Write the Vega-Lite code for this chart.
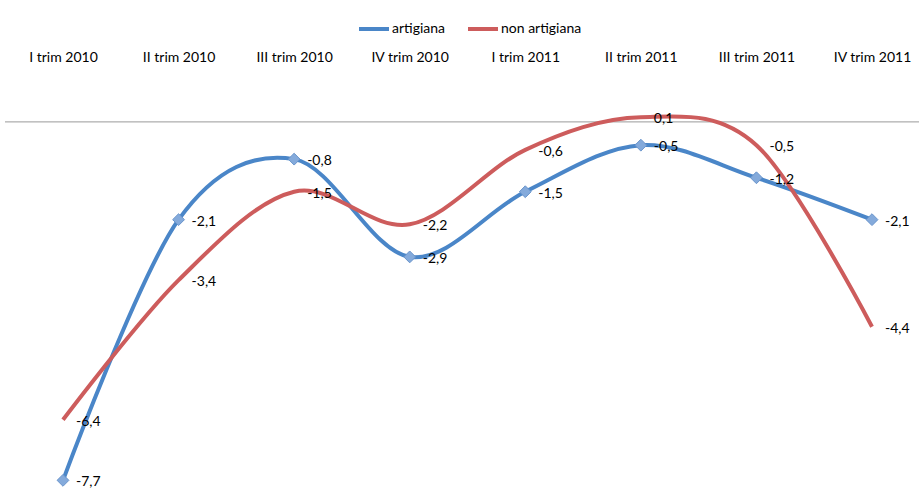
{
  "$schema": "https://vega.github.io/schema/vega-lite/v6.json",
  "autosize": "none",
  "width": 914,
  "height": 405,
  "padding": {"left": 5, "top": 80, "right": 0, "bottom": 4},
  "background": "white",
  "config": {
    "view": {"stroke": null},
    "font": "Lato",
    "text": {"font": "Lato"}
  },
  "data": {
    "values": [
      {"trim": "I trim 2010", "serie": "artigiana", "v": -7.7, "lab": "-7,7"},
      {"trim": "II trim 2010", "serie": "artigiana", "v": -2.1, "lab": "-2,1"},
      {"trim": "III trim 2010", "serie": "artigiana", "v": -0.8, "lab": "-0,8"},
      {"trim": "IV trim 2010", "serie": "artigiana", "v": -2.9, "lab": "-2,9"},
      {"trim": "I trim 2011", "serie": "artigiana", "v": -1.5, "lab": "-1,5"},
      {"trim": "II trim 2011", "serie": "artigiana", "v": -0.5, "lab": "-0,5"},
      {"trim": "III trim 2011", "serie": "artigiana", "v": -1.2, "lab": "-1,2"},
      {"trim": "IV trim 2011", "serie": "artigiana", "v": -2.1, "lab": "-2,1"},
      {"trim": "I trim 2010", "serie": "non artigiana", "v": -6.4, "lab": "-6,4"},
      {"trim": "II trim 2010", "serie": "non artigiana", "v": -3.4, "lab": "-3,4"},
      {"trim": "III trim 2010", "serie": "non artigiana", "v": -1.5, "lab": "-1,5"},
      {"trim": "IV trim 2010", "serie": "non artigiana", "v": -2.2, "lab": "-2,2"},
      {"trim": "I trim 2011", "serie": "non artigiana", "v": -0.6, "lab": "-0,6"},
      {"trim": "II trim 2011", "serie": "non artigiana", "v": 0.1, "lab": "0,1"},
      {"trim": "III trim 2011", "serie": "non artigiana", "v": -0.5, "lab": "-0,5"},
      {"trim": "IV trim 2011", "serie": "non artigiana", "v": -4.4, "lab": "-4,4"}
    ]
  },
  "encoding": {
    "x": {
      "field": "trim",
      "type": "ordinal",
      "sort": null,
      "scale": {"type": "point", "range": [58, 867], "padding": 0},
      "axis": {
        "orient": "top",
        "title": null,
        "domain": false,
        "ticks": false,
        "labelAngle": 0,
        "labelFontSize": 14,
        "labelColor": "#000000",
        "labelPadding": 16,
        "labelFont": "Lato"
      }
    },
    "y": {
      "field": "v",
      "type": "quantitative",
      "scale": {"domain": [-7.8, 0.9], "nice": false, "zero": false},
      "axis": null
    }
  },
  "layer": [
    {
      "mark": {"type": "rule", "color": "#9a9a9a", "strokeWidth": 1},
      "data": {"values": [{"z": 0}]},
      "encoding": {"y": {"field": "z", "type": "quantitative"}, "x": null}
    },
    {
      "mark": {"type": "line", "interpolate": "cardinal", "strokeWidth": 4},
      "encoding": {
        "color": {
          "field": "serie",
          "type": "nominal",
          "scale": {"domain": ["artigiana", "non artigiana"], "range": ["#4A86C8", "#CD5C5C"]},
          "legend": {
            "title": null,
            "orient": "none",
            "direction": "horizontal",
            "legendX": 352,
            "legendY": -68,
            "symbolType": "stroke",
            "symbolStrokeWidth": 4,
            "symbolSize": 900,
            "labelFontSize": 14,
            "labelColor": "#000000",
            "labelFont": "Lato",
            "columnPadding": 14,
            "labelOffset": 1
          }
        }
      }
    },
    {
      "transform": [{"filter": "datum.serie === 'artigiana'"}],
      "mark": {"type": "point", "shape": "diamond", "filled": true, "size": 140, "color": "#84AADB", "stroke": "#6A95CC", "strokeWidth": 1, "opacity": 1}
    },
    {
      "mark": {"type": "text", "align": "left", "baseline": "middle", "dx": 13, "dy": 2, "fontSize": 14, "font": "Lato", "color": "#000000"},
      "encoding": {"text": {"field": "lab"}}
    }
  ]
}
